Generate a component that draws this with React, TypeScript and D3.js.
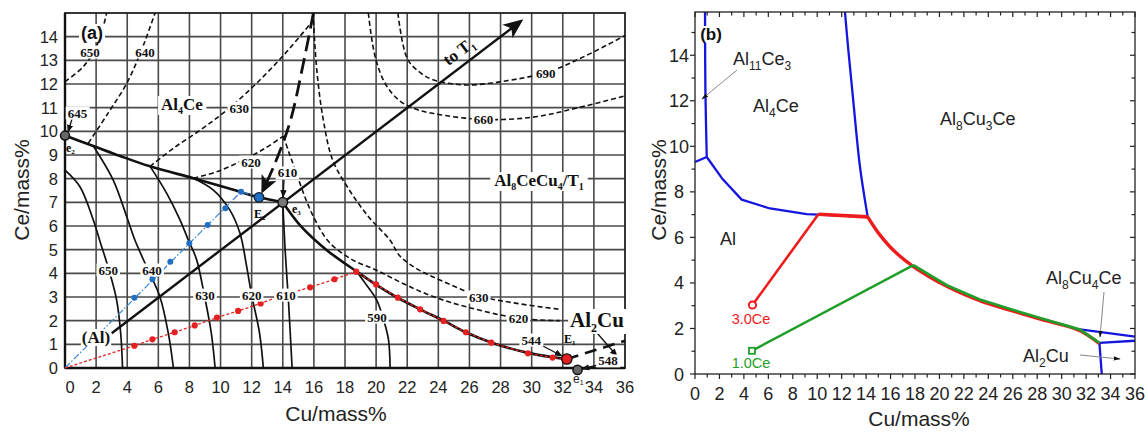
import React, { useLayoutEffect, useRef, useState } from "react";
import * as d3 from "d3";

type P = [number, number];

const SERIF = "'Liberation Serif','Times New Roman',serif";
const SANS = "'Liberation Sans',Arial,sans-serif";

// ---------------- Panel (a) data ----------------
const xTicksA = [0, 2, 4, 6, 8, 10, 12, 14, 16, 18, 20, 22, 24, 26, 28, 30, 32, 34, 36];
const yTicksA = [0, 1, 2, 3, 4, 5, 6, 7, 8, 9, 10, 11, 12, 13, 14];

// liquidus valleys (thick solid)
const valleyE2: P[] = [[0, 9.82], [1.82, 9.38], [3.5, 8.97], [5.47, 8.52], [8.25, 8.02], [10.5, 7.6], [12.47, 7.21], [14, 7.0]];
const valleyE1: P[] = [[14, 7.0], [15.1, 6.04], [16.83, 4.98], [18.76, 4.07], [20.04, 3.5], [21.3, 3.0], [22.83, 2.48], [24.33, 2.0], [25.83, 1.49], [27.44, 1.07], [29.69, 0.65], [31.4, 0.45], [32.26, 0.38]];
const valleyAl2Cu: P[] = [[32.26, 0.38], [36, 1.15]];
const valleyLongDash: P[] = [[15.97, 15], [15.3, 12.8], [14.47, 10.4], [13.5, 8.65], [12.72, 7.5]];
const toT1: P[] = [[3.0, 1.47], [29.26, 14.63]];

// isotherms, dashed
const d650: P[] = [[0, 12.1], [1.2, 12.75], [2.1, 13.7], [2.68, 15]];
const d640: P[] = [[1.5, 9.5], [2.8, 10.8], [3.97, 12.03], [4.9, 13.4], [5.79, 15]];
const d630: P[] = [[5.47, 8.52], [7.0, 9.3], [8.8, 10.1], [10.5, 10.95], [12.5, 12.15], [14.3, 13.4], [15.97, 14.7]];
const d620: P[] = [[8.25, 8.02], [9.8, 8.3], [11.5, 8.8], [12.9, 9.3], [14.04, 9.8]];
const d620T1: P[] = [[14.04, 9.8], [14.4, 9.1], [14.8, 8.37], [15.5, 7.1], [16.2, 6.1], [17.0, 5.3], [18.4, 4.6], [20.0, 4.14], [21.8, 3.55], [23.7, 3.01], [26.0, 2.55], [29.2, 2.1], [31.8, 2.0]];
const d630T1: P[] = [[15.97, 14.7], [16.2, 12.5], [16.6, 10.5], [17.2, 8.8], [18.2, 7.6], [19.5, 6.4], [20.9, 5.4], [21.5, 4.75], [22.6, 4.2], [24.1, 3.72], [26.6, 3.05], [29.05, 2.73], [31.8, 2.48]];
const d660: P[] = [[19.5, 15], [19.94, 13.15], [20.6, 12.0], [21.5, 11.3], [22.5, 10.95], [23.7, 10.75], [26.9, 10.5], [30.1, 10.6], [33, 11.0], [36, 11.5]];
const d690: P[] = [[21.4, 15], [22.0, 13.08], [22.8, 12.5], [23.7, 12.17], [25.8, 11.96], [28.5, 12.15], [31, 12.5], [33.5, 13.2], [36, 14.05]];

// isotherms, solid (Al primary)
const s650: P[] = [[0, 8.36], [0.96, 7.66], [1.82, 6.25], [2.25, 5.35], [2.8, 4.2], [3.32, 2.87], [3.58, 1.47], [3.7, 0]];
const s640: P[] = [[1.82, 9.38], [3.1, 7.94], [3.97, 6.39], [4.5, 5.4], [5.3, 4.2], [6.1, 3.01], [6.64, 1.47], [6.97, 0]];
const s630: P[] = [[5.47, 8.52], [6.54, 7.38], [7.4, 6.25], [7.93, 5.4], [8.45, 4.6], [8.95, 3.1], [9.4, 1.5], [9.65, 0]];
const s620: P[] = [[8.25, 8.02], [9.54, 7.52], [10.6, 6.67], [11.25, 5.69], [11.68, 4.28], [12.0, 3.08], [12.5, 1.5], [12.75, 0]];
const s610: P[] = [[14, 7.0], [14.15, 5.0], [14.35, 3.0], [14.6, 0]];
const s590: P[] = [[18.76, 4.07], [19.5, 3.4], [20.04, 2.87], [20.5, 2.0], [20.8, 1.18], [20.9, 0]];

// solidification paths
const bluePath: P[] = [[0, 0], [11.32, 7.45], [12.47, 7.21]];
const blueDots: P[] = [[4.46, 2.97], [5.62, 3.75], [6.77, 4.49], [7.99, 5.27], [9.17, 6.04], [10.31, 6.75], [11.32, 7.45]];
const pointE2: P = [12.47, 7.21];
const redDots: P[] = [[4.46, 0.94], [5.62, 1.21], [7.05, 1.51], [8.34, 1.8], [9.77, 2.13], [11.13, 2.41], [12.58, 2.73], [14.0, 3.08], [15.76, 3.41], [17.32, 3.75], [18.72, 4.07], [20.0, 3.53], [21.4, 2.97], [22.83, 2.48], [24.33, 1.99], [25.77, 1.51], [27.4, 1.07], [29.76, 0.62], [31.34, 0.44]];
const pointE1: P = [32.26, 0.38];
const pointE2e: P = [0, 9.82];
const pointE3: P = [14, 7.0];
const pointE1e: P = [32.95, -0.08];

const isoLabelsA = [
  { t: "650", x: 1.6, y: 13.35 }, { t: "640", x: 5.14, y: 13.35 }, { t: "630", x: 11.2, y: 10.98 },
  { t: "620", x: 11.95, y: 8.7 }, { t: "610", x: 14.3, y: 8.24 }, { t: "645", x: 0.8, y: 10.77 },
  { t: "690", x: 30.9, y: 12.46 }, { t: "660", x: 26.9, y: 10.52 }, { t: "630", x: 26.6, y: 3.0 },
  { t: "620", x: 29.15, y: 2.1 }, { t: "650", x: 2.78, y: 4.14 }, { t: "640", x: 5.6, y: 4.14 },
  { t: "630", x: 9.0, y: 3.08 }, { t: "620", x: 12.0, y: 3.08 }, { t: "610", x: 14.2, y: 3.08 },
  { t: "590", x: 20.05, y: 2.15 }, { t: "544", x: 29.97, y: 1.18 }, { t: "548", x: 34.9, y: 0.3 },
];

// ---------------- Panel (b) data ----------------
const xTicksB = [0, 2, 4, 6, 8, 10, 12, 14, 16, 18, 20, 22, 24, 26, 28, 30, 32, 34, 36];
const yTicksB = [0, 2, 4, 6, 8, 10, 12, 14];
const blueLeft: P[] = [[0.82, 15.9], [0.85, 12.5], [0.96, 9.53]];
const blueLeftAxis: P[] = [[0, 9.31], [0.96, 9.53]];
const blueAl: P[] = [[0.96, 9.53], [2.2, 8.6], [3.82, 7.66], [6.14, 7.27], [9.14, 7.02], [10.1, 7.0], [14.13, 6.9]];
const blueAl4Ce: P[] = [[12.27, 15.9], [12.55, 14.2], [12.95, 12.0], [13.5, 9.1], [14.13, 6.9]];
const blueR1: P[] = [[31.5, 1.96], [36, 1.64]];
const blueR2: P[] = [[33.09, 1.37], [36, 1.46]];
const blueR3: P[] = [[33.09, 1.37], [33.28, 0]];
const red3Ce: P[] = [[4.7, 3.03], [10.1, 7.02]];
const red3CeB: P[] = [[10.1, 7.02], [14.13, 6.9]];
const redCurve: P[] = [[14.13, 6.9], [15.0, 6.2], [16.3, 5.4], [17.87, 4.72], [20.6, 3.85], [23.3, 3.22], [26.05, 2.76], [28.8, 2.33], [31.5, 1.9], [33.09, 1.33]];
const green1Ce: P[] = [[4.66, 1.02], [17.87, 4.78]];
const greenCurve: P[] = [[17.87, 4.78], [20.6, 3.9], [23.3, 3.27], [26.05, 2.81], [28.8, 2.37], [31.5, 1.95], [33.09, 1.37]];

function BgText(props: {
  x: number; y: number; children: React.ReactNode; size?: number; weight?: string;
  family?: string; anchor?: string; fill?: string; bg?: boolean; rotate?: number; pad?: number;
}) {
  const { x, y, children, size = 13, weight = "bold", family = SERIF, anchor = "middle", fill = "#111", bg = true, rotate, pad = 2 } = props;
  const ref = useRef<SVGTextElement>(null);
  const [box, setBox] = useState<{ x: number; y: number; w: number; h: number } | null>(null);
  useLayoutEffect(() => {
    if (ref.current) {
      const b = ref.current.getBBox();
      setBox({ x: b.x, y: b.y, w: b.width, h: b.height });
    }
  }, []);
  return (
    <g transform={rotate ? `rotate(${rotate},${x},${y})` : undefined}>
      {bg && box && <rect x={box.x - pad} y={box.y + 1} width={box.w + 2 * pad} height={box.h - 2} fill="white" />}
      <text ref={ref} x={x} y={y} fontSize={size} fontWeight={weight} fontFamily={family} textAnchor={anchor} fill={fill}>
        {children}
      </text>
    </g>
  );
}

export default function App() {
  const xA = d3.scaleLinear().domain([0, 36]).range([65, 625]);
  const yA = d3.scaleLinear().domain([0, 15]).range([368, 13]);
  const xB = d3.scaleLinear().domain([0, 36]).range([695, 1135]);
  const yB = d3.scaleLinear().domain([0, 15.9]).range([374, 12]);

  const linA = d3.line<P>().x((d) => xA(d[0])).y((d) => yA(d[1]));
  const crvA = d3.line<P>().x((d) => xA(d[0])).y((d) => yA(d[1])).curve(d3.curveCatmullRom.alpha(0.5));
  const linB = d3.line<P>().x((d) => xB(d[0])).y((d) => yB(d[1]));
  const crvB = d3.line<P>().x((d) => xB(d[0])).y((d) => yB(d[1])).curve(d3.curveCatmullRom.alpha(0.5));

  const dashIso = { fill: "none", stroke: "#111", strokeWidth: 1.6, strokeDasharray: "5,3" };
  const solidIso = { fill: "none", stroke: "#111", strokeWidth: 1.7 };

  const minorB = d3.range(0, 37, 1);
  const minorBy = d3.range(0, 16, 1);

  return (
    <svg width={1146} height={434} style={{ position: "absolute", left: 0, top: 0, background: "white" }}>
      <defs>
        <marker id="ah" viewBox="0 0 10 10" refX="9" refY="5" markerWidth="8" markerHeight="8" orient="auto" markerUnits="userSpaceOnUse">
          <path d="M0,1 L10,5 L0,9 z" fill="#111" />
        </marker>
        <marker id="ahBig" viewBox="0 0 10 10" refX="8" refY="5" markerWidth="18" markerHeight="18" orient="auto" markerUnits="userSpaceOnUse">
          <path d="M0,0.5 L10,5 L0,9.5 L2.5,5 z" fill="#111" />
        </marker>
        <marker id="ahT1" viewBox="0 0 10 10" refX="8" refY="5" markerWidth="20" markerHeight="20" orient="auto" markerUnits="userSpaceOnUse">
          <path d="M0,0.8 L10,5 L0,9.2 L2.5,5 z" fill="#111" />
        </marker>
        <marker id="ahB" viewBox="0 0 10 10" refX="9" refY="5" markerWidth="7" markerHeight="7" orient="auto" markerUnits="userSpaceOnUse">
          <path d="M0,2 L10,5 L0,8 z" fill="#111" />
        </marker>
      </defs>

      {/* ================= Panel (a) ================= */}
      <g>
        {xTicksA.filter((v) => v > 0 && v < 36).map((v) => (
          <line key={"gx" + v} x1={xA(v)} x2={xA(v)} y1={yA(0)} y2={yA(15)} stroke="#4a4a4a" strokeWidth={1.6} />
        ))}
        {yTicksA.filter((v) => v > 0).map((v) => (
          <line key={"gy" + v} x1={xA(0)} x2={xA(36)} y1={yA(v)} y2={yA(v)} stroke="#4a4a4a" strokeWidth={1.6} />
        ))}
        <rect x={xA(0)} y={yA(15)} width={xA(36) - xA(0)} height={yA(0) - yA(15)} fill="none" stroke="#222" strokeWidth={1.8} />
        <line x1={xA(0)} x2={xA(0)} y1={yA(15)} y2={yA(0)} stroke="#111" strokeWidth={2.4} />
        <line x1={xA(0)} x2={xA(36)} y1={yA(0)} y2={yA(0)} stroke="#111" strokeWidth={2.4} />

        {/* isotherms */}
        {[d650, d640, d630, d620, d620T1, d630T1, d660, d690].map((d, i) => (
          <path key={"di" + i} d={crvA(d) || ""} {...dashIso} />
        ))}
        {[s650, s640, s630, s620, s610, s590].map((d, i) => (
          <path key={"si" + i} d={crvA(d) || ""} {...solidIso} />
        ))}

        {/* valleys */}
        <path d={crvA(valleyE2) || ""} fill="none" stroke="#111" strokeWidth={2.6} />
        <path d={crvA(valleyE1) || ""} fill="none" stroke="#111" strokeWidth={2.6} />
        <path d={linA(valleyAl2Cu) || ""} fill="none" stroke="#111" strokeWidth={2.6} strokeDasharray="12,7" />
        <path d={crvA(valleyLongDash) || ""} fill="none" stroke="#111" strokeWidth={2.8} strokeDasharray="16,7" markerEnd="url(#ahBig)" />
        <path d={linA(toT1) || ""} fill="none" stroke="#111" strokeWidth={2.4} markerEnd="url(#ahT1)" />

        {/* solidification paths */}
        <path d={linA(bluePath) || ""} fill="none" stroke="#3b86d6" strokeWidth={1.2} strokeDasharray="7,2,1.5,2" />
        <path d={linA([[0, 0] as P, ...redDots, pointE1]) || ""} fill="none" stroke="#e32222" strokeWidth={1.3} strokeDasharray="3,2" />
        {blueDots.map((d, i) => (
          <circle key={"bd" + i} cx={xA(d[0])} cy={yA(d[1])} r={3} fill="#1f6fc5" />
        ))}
        {redDots.map((d, i) => (
          <circle key={"rd" + i} cx={xA(d[0])} cy={yA(d[1])} r={3.1} fill="#e62020" />
        ))}

        {/* arrows */}
        <line x1={72} y1={119} x2={68} y2={132} stroke="#111" strokeWidth={1.3} markerEnd="url(#ah)" />
        <line x1={xA(14.08)} y1={180} x2={xA(14.02)} y2={yA(7.0) - 5} stroke="#111" strokeWidth={1.3} markerEnd="url(#ah)" />
        <line x1={541} y1={345} x2={562} y2={356} stroke="#111" strokeWidth={1.3} markerEnd="url(#ah)" />
        <line x1={598} y1={365} x2={582} y2={369} stroke="#111" strokeWidth={1.3} markerEnd="url(#ah)" />
        <line x1={591} y1={326} x2={617} y2={356} stroke="#111" strokeWidth={1.3} markerEnd="url(#ah)" />

        {/* isotherm labels */}
        {isoLabelsA.map((l, i) => (
          <BgText key={"il" + i} x={xA(l.x)} y={yA(l.y) + 4.5} size={13}>{l.t}</BgText>
        ))}

        {/* invariant points */}
        <circle cx={xA(pointE2e[0])} cy={yA(pointE2e[1])} r={4.5} fill="#666" stroke="#111" strokeWidth={1.5} />
        <circle cx={xA(pointE3[0])} cy={yA(pointE3[1])} r={4.8} fill="#777" stroke="#111" strokeWidth={1.5} />
        <circle cx={xA(pointE1e[0])} cy={yA(pointE1e[1])} r={4.6} fill="#666" stroke="#111" strokeWidth={1.5} />
        <circle cx={xA(pointE2[0])} cy={yA(pointE2[1])} r={4.8} fill="#1f6fc5" stroke="#123" strokeWidth={1.3} />
        <circle cx={xA(pointE1[0])} cy={yA(pointE1[1])} r={5.2} fill="#e62020" stroke="#111" strokeWidth={1.3} />

        {/* point labels */}
        <text x={66} y={152} fontSize={12} fontWeight="bold" fontFamily={SERIF}>e<tspan dy={2} fontSize={7}>2</tspan></text>
        <text x={254} y={218} fontSize={12} fontWeight="bold" fontFamily={SERIF}>E<tspan dy={2} fontSize={7}>2</tspan></text>
        <text x={292} y={213} fontSize={12} fontWeight="bold" fontFamily={SERIF}>e<tspan dy={2} fontSize={7}>3</tspan></text>
        <text x={564} y={343} fontSize={12} fontWeight="bold" fontFamily={SERIF}>E<tspan dy={2} fontSize={7}>1</tspan></text>
        <text x={573} y={383} fontSize={12} fontFamily={SANS} fill="#222">e<tspan dy={2} fontSize={7}>1</tspan></text>

        {/* phase labels */}
        <BgText x={182} y={110} size={17} pad={3}>Al<tspan dy={4} fontSize={10}>4</tspan><tspan dy={-4}>Ce</tspan></BgText>
        <BgText x={539} y={186} size={17} pad={4}>Al<tspan dy={4} fontSize={10}>8</tspan><tspan dy={-4}>CeCu</tspan><tspan dy={4} fontSize={10}>4</tspan><tspan dy={-4}>/T</tspan><tspan dy={4} fontSize={10}>1</tspan></BgText>
        <BgText x={96} y={343} size={17} pad={1}>(Al)</BgText>
        <BgText x={597} y={327} size={21} pad={2}>Al<tspan dy={5} fontSize={12}>2</tspan><tspan dy={-5}>Cu</tspan></BgText>
        <BgText x={92} y={39} size={18} family={SANS} pad={2}>(a)</BgText>
        <BgText x={462} y={56} size={17} rotate={-37} bg={false}>to T<tspan dy={4} fontSize={10}>1</tspan></BgText>

        {/* axes labels */}
        {xTicksA.map((v) => (
          <text key={"xt" + v} x={xA(v) + (v === 0 ? 5 : 0)} y={393} fontSize={16.5} fontFamily={SANS} textAnchor="middle" fill="#222">{v}</text>
        ))}
        {yTicksA.map((v) => (
          <text key={"yt" + v} x={58} y={yA(v) + 6} fontSize={16.5} fontFamily={SANS} textAnchor="end" fill="#222">{v}</text>
        ))}
        <text x={336} y={421} fontSize={21} fontFamily={SANS} textAnchor="middle" fill="#222">Cu/mass%</text>
        <text transform="translate(29,190) rotate(-90)" fontSize={21} fontFamily={SANS} textAnchor="middle" fill="#222">Ce/mass%</text>
      </g>

      {/* ================= Panel (b) ================= */}
      <g>
        {/* lines */}
        <path d={crvB(blueLeft) || ""} fill="none" stroke="#1515e0" strokeWidth={2.3} />
        <path d={linB(blueLeftAxis) || ""} fill="none" stroke="#1515e0" strokeWidth={2.3} />
        <path d={linB(blueAl) || ""} fill="none" stroke="#1515e0" strokeWidth={2.3} strokeLinejoin="round" />
        <path d={crvB(blueAl4Ce) || ""} fill="none" stroke="#1515e0" strokeWidth={2.3} />
        <path d={linB(blueR1) || ""} fill="none" stroke="#1515e0" strokeWidth={2.3} />
        <path d={linB(blueR2) || ""} fill="none" stroke="#1515e0" strokeWidth={2.3} />
        <path d={linB(blueR3) || ""} fill="none" stroke="#1515e0" strokeWidth={2.3} />
        <path d={crvB(redCurve) || ""} fill="none" stroke="#ee1c1c" strokeWidth={3.4} />
        <path d={linB(red3Ce) || ""} fill="none" stroke="#ee1c1c" strokeWidth={2.6} />
        <path d={linB(red3CeB) || ""} fill="none" stroke="#ee1c1c" strokeWidth={3.6} />
        <path d={linB(green1Ce) || ""} fill="none" stroke="#1f9e2a" strokeWidth={2.5} />
        <path d={linB(greenCurve) || ""} fill="none" stroke="#1f9e2a" strokeWidth={2.7} />
        <circle cx={xB(red3Ce[0][0])} cy={yB(red3Ce[0][1])} r={3.6} fill="white" stroke="#ee1c1c" strokeWidth={2} />
        <rect x={xB(green1Ce[0][0]) - 3} y={yB(green1Ce[0][1]) - 3} width={6} height={6} fill="white" stroke="#1f9e2a" strokeWidth={1.8} />

        {/* frame & ticks */}
        <rect x={xB(0)} y={yB(15.9)} width={xB(36) - xB(0)} height={yB(0) - yB(15.9)} fill="none" stroke="#222" strokeWidth={1.3} />
        {minorB.map((v) => (
          <g key={"bt" + v}>
            <line x1={xB(v)} x2={xB(v)} y1={yB(0)} y2={yB(0) + (v % 2 === 0 ? 5 : 3.5)} stroke="#222" strokeWidth={1.2} />
            <line x1={xB(v)} x2={xB(v)} y1={yB(15.9)} y2={yB(15.9) + (v % 2 === 0 ? 5 : 3.5)} stroke="#222" strokeWidth={1.2} />
          </g>
        ))}
        {minorBy.map((v) => (
          <g key={"bty" + v}>
            <line x1={xB(0)} x2={xB(0) - (v % 2 === 0 ? 5 : 3.5)} y1={yB(v)} y2={yB(v)} stroke="#222" strokeWidth={1.2} />
            <line x1={xB(36)} x2={xB(36) - (v % 2 === 0 ? 5 : 3.5)} y1={yB(v)} y2={yB(v)} stroke="#222" strokeWidth={1.2} />
          </g>
        ))}
        {xTicksB.map((v) => (
          <text key={"bxl" + v} x={xB(v)} y={400} fontSize={18} fontFamily={SANS} textAnchor="middle" fill="#222">{v}</text>
        ))}
        {yTicksB.map((v) => (
          <text key={"byl" + v} x={679} y={yB(v) + 6.5} fontSize={18} fontFamily={SANS} textAnchor="middle" fill="#222">{v}</text>
        ))}
        <text x={919} y={426} fontSize={21} fontFamily={SANS} textAnchor="middle" fill="#222">Cu/mass%</text>
        <text transform="translate(666,190) rotate(-90)" fontSize={21} fontFamily={SANS} textAnchor="middle" fill="#222">Ce/mass%</text>

        {/* annotations */}
        <BgText x={711} y={40} size={17} family={SANS} pad={2}>(b)</BgText>
        <text x={733} y={65} fontSize={18} fontFamily={SANS} fill="#222">Al<tspan dy={5} fontSize={12}>11</tspan><tspan dy={-5}>Ce</tspan><tspan dy={5} fontSize={12}>3</tspan></text>
        <line x1={737} y1={70} x2={702} y2={99} stroke="#888" strokeWidth={1} markerEnd="url(#ahB)" />
        <text x={753} y={112} fontSize={18} fontFamily={SANS} fill="#222">Al<tspan dy={5} fontSize={12}>4</tspan><tspan dy={-5}>Ce</tspan></text>
        <text x={940} y={125} fontSize={18} fontFamily={SANS} fill="#222">Al<tspan dy={5} fontSize={12}>8</tspan><tspan dy={-5}>Cu</tspan><tspan dy={5} fontSize={12}>3</tspan><tspan dy={-5}>Ce</tspan></text>
        <text x={720} y={245} fontSize={18} fontFamily={SANS} fill="#222">Al</text>
        <text x={751} y={324} fontSize={14.5} fontFamily={SANS} fill="#ee1c1c" textAnchor="middle">3.0Ce</text>
        <text x={751} y={368} fontSize={14.5} fontFamily={SANS} fill="#1f9e2a" textAnchor="middle">1.0Ce</text>
        <text x={1046} y={284} fontSize={18} fontFamily={SANS} fill="#222">Al<tspan dy={5} fontSize={12}>8</tspan><tspan dy={-5}>Cu</tspan><tspan dy={5} fontSize={12}>4</tspan><tspan dy={-5}>Ce</tspan></text>
        <line x1={1104} y1={292} x2={1100} y2={337} stroke="#888" strokeWidth={1} markerEnd="url(#ahB)" />
        <text x={1023} y={362} fontSize={18} fontFamily={SANS} fill="#222">Al<tspan dy={5} fontSize={12}>2</tspan><tspan dy={-5}>Cu</tspan></text>
        <line x1={1080} y1={355} x2={1120} y2={359} stroke="#888" strokeWidth={1} markerEnd="url(#ahB)" />
      </g>
    </svg>
  );
}
